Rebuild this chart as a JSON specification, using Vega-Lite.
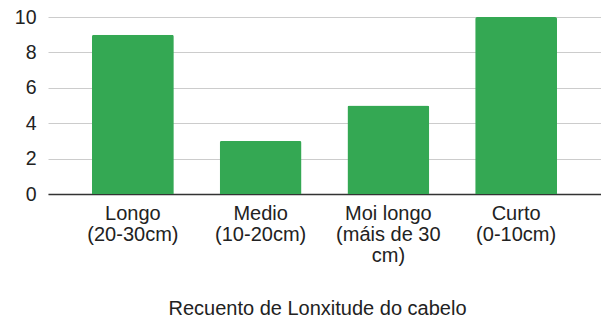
{
  "$schema": "https://vega.github.io/schema/vega-lite/v6.json",
  "autosize": "none",
  "width": 553,
  "height": 177,
  "padding": {"left": 48, "top": 17, "right": 0, "bottom": 125},
  "background": "white",
  "config": {
    "view": {"stroke": null},
    "font": "Liberation Sans"
  },
  "data": {
    "values": [
      {"lonxitude": "Longo (20-30cm)", "recuento": 9},
      {"lonxitude": "Medio (10-20cm)", "recuento": 3},
      {"lonxitude": "Moi longo (máis de 30 cm)", "recuento": 5},
      {"lonxitude": "Curto (0-10cm)", "recuento": 10}
    ]
  },
  "mark": {"type": "bar", "color": "#34a853", "cornerRadiusTopLeft": 2, "cornerRadiusTopRight": 2},
  "encoding": {
    "x": {
      "field": "lonxitude",
      "type": "nominal",
      "sort": null,
      "scale": {"paddingInner": 0.359, "paddingOuter": 0.344},
      "axis": {
        "title": "Recuento de Lonxitude do cabelo",
        "titleFont": "Liberation Sans",
        "titleFontSize": 20,
        "titleFontWeight": "normal",
        "titleColor": "#222222",
        "titleX": 269,
        "titleY": 120,
        "titleAlign": "center",
        "titleBaseline": "alphabetic",
        "labelAngle": 0,
        "labelFont": "Liberation Sans",
        "labelFontSize": 20,
        "labelColor": "#222222",
        "labelLineHeight": 21,
        "labelPadding": 9,
        "labelLimit": 300,
        "labelExpr": "datum.value == 'Moi longo (máis de 30 cm)' ? ['Moi longo', '(máis de 30', 'cm)'] : split(datum.value, ' ')",
        "ticks": false,
        "domainColor": "#333333",
        "domainWidth": 1.5,
        "grid": false
      }
    },
    "y": {
      "field": "recuento",
      "type": "quantitative",
      "scale": {"domain": [0, 10], "nice": false},
      "axis": {
        "title": null,
        "values": [0, 2, 4, 6, 8, 10],
        "labelFont": "Liberation Sans",
        "labelFontSize": 19.5,
        "labelColor": "#222222",
        "labelPadding": 12,
        "ticks": false,
        "domain": false,
        "gridColor": "#cccccc",
        "gridWidth": 1
      }
    }
  }
}
